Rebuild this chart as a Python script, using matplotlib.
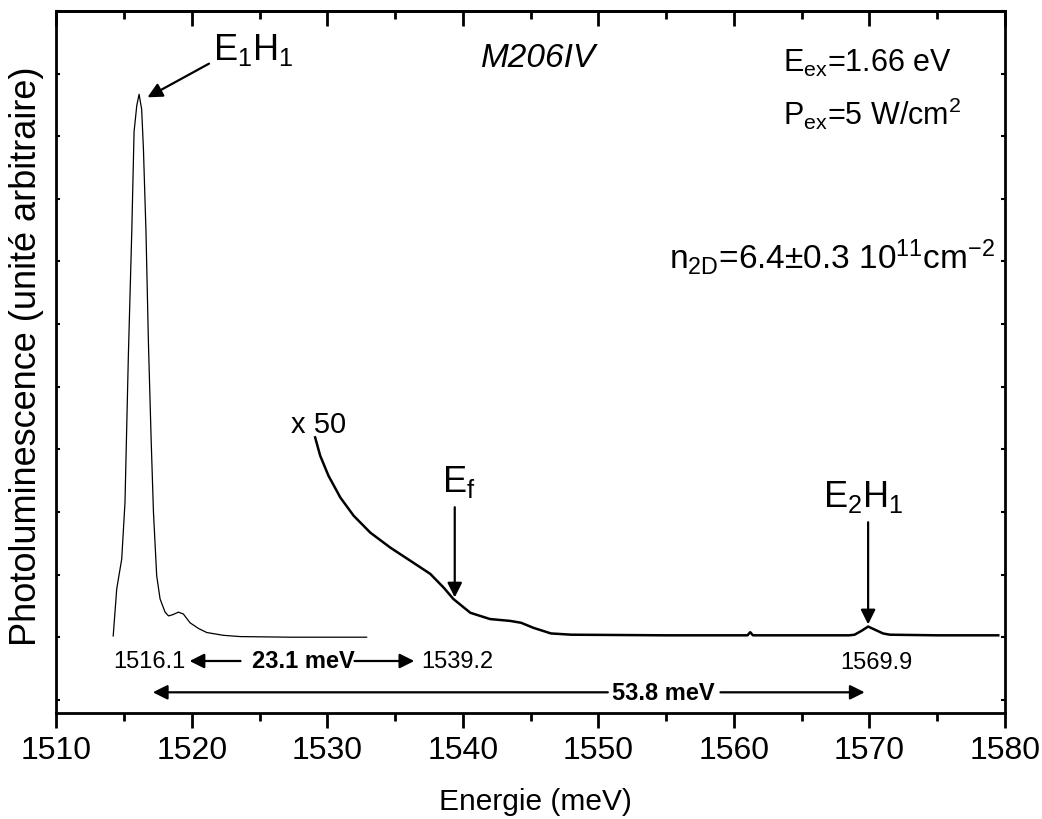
import matplotlib
matplotlib.use("Agg")
import matplotlib.pyplot as plt

plt.rcParams['font.family'] = ['Liberation Sans', 'DejaVu Sans']
plt.rcParams['mathtext.fontset'] = 'custom'
plt.rcParams['mathtext.rm'] = 'Liberation Sans'
plt.rcParams['mathtext.it'] = 'Liberation Sans:italic'
plt.rcParams['mathtext.bf'] = 'Liberation Sans:bold'

# spectre principal (E1H1), energie en meV, intensite en unites arbitraires
e_main = [1514.2, 1514.46, 1514.83, 1515.07, 1515.32, 1515.57, 1515.74, 1515.94,
          1516.11, 1516.3, 1516.43, 1516.62, 1516.8, 1517.0, 1517.17, 1517.41,
          1517.66, 1518.03, 1518.28, 1518.6, 1519.01, 1519.38, 1519.87, 1520.49,
          1521.1, 1522.33, 1523.56, 1527.25, 1532.9]
pl_main = [0.02, 0.77, 1.25, 2.15, 4.5, 6.47, 8.07, 8.49,
           8.67, 8.43, 7.8, 6.47, 4.7, 3.16, 2.0, 0.98,
           0.61, 0.40, 0.34, 0.36, 0.40, 0.37, 0.23, 0.14,
           0.075, 0.03, 0.01, 0.0, 0.0]

# spectre x 50
e_x50 = [1529.1, 1529.47, 1530.08, 1530.96, 1531.94, 1533.17, 1534.65, 1536.13,
         1537.6, 1538.59, 1539.3, 1540.55, 1542.0, 1543.5, 1544.3, 1545.2,
         1546.5, 1548.0, 1555.0, 1561.0, 1561.2, 1561.4, 1568.5, 1568.9,
         1569.4, 1569.9, 1570.4, 1571.0, 1571.5, 1575.0, 1579.5]
pl_x50 = [3.19, 2.90, 2.58, 2.23, 1.94, 1.67, 1.43, 1.22,
          1.01, 0.79, 0.61, 0.39, 0.29, 0.26, 0.23, 0.15,
          0.06, 0.04, 0.03, 0.03, 0.08, 0.03, 0.03, 0.04,
          0.10, 0.17, 0.12, 0.06, 0.04, 0.03, 0.03]

fig = plt.figure(figsize=(10.42, 8.2), dpi=100)
ax = fig.add_axes([0.054, 0.1293, 0.9105, 0.8561])

ax.plot(e_main, pl_main, 'k-', lw=0.9)
ax.plot(e_x50, pl_x50, 'k-', lw=1.8)

ax.set_xlim(1510, 1580)
ax.set_ylim(-1.21, 10)
ax.set_xticks(range(1510, 1581, 10))
ax.set_xticks(range(1515, 1580, 10), minor=True)
ax.set_yticks(range(-1, 11))
ax.set_yticklabels([])

for s in ax.spines.values():
    s.set_linewidth(2)
ax.tick_params(axis='x', which='major', direction='out', length=11, width=2,
               labelsize=23, pad=5)
ax.tick_params(axis='x', which='minor', direction='out', length=6, width=2)
ax.tick_params(axis='y', which='major', direction='in', length=3, width=1.5,
               left=True, right=True)

# ticks du haut vers l'interieur
top = ax.secondary_xaxis('top')
top.set_xticks(range(1510, 1581, 10))
top.set_xticks(range(1515, 1580, 10), minor=True)
top.set_xticklabels([])
top.tick_params(which='major', direction='in', length=11, width=2)
top.tick_params(which='minor', direction='in', length=6, width=2)
top.spines['top'].set_linewidth(2)

ax.set_xlabel('Energie (meV)', fontsize=21.5, va='top')
ax.xaxis.set_label_coords(0.505, -0.105)
ax.set_ylabel('Photoluminescence (unité arbitraire)', fontsize=26)
ax.yaxis.set_label_coords(-0.013, 0.51)

arr = dict(arrowstyle='-|>', color='k', lw=1.6, mutation_scale=22)

ax.text(1521.6, 9.23, r'E$_\mathrm{1}$H$_\mathrm{1}$', fontsize=26)
ax.annotate('', xy=(1516.55, 8.6), xytext=(1521.45, 9.18), arrowprops=arr)

ax.text(1541.3, 9.12, 'M206IV', fontsize=24, style='italic')
ax.text(1563.6, 9.05, r'E$_\mathrm{ex}$=1.66 eV', fontsize=22)
ax.text(1563.6, 8.2, r'P$_\mathrm{ex}$=5 W/cm$^\mathrm{2}$', fontsize=22)
ax.text(1555.2, 5.9, r'n$_\mathrm{2D}$=6.4$\pm$0.3 10$^\mathrm{11}$cm$^\mathrm{-2}$',
        fontsize=24)

ax.text(1527.3, 3.27, 'x 50', fontsize=21)
ax.text(1538.46, 2.33, r'E$_\mathrm{f}$', fontsize=26)
ax.annotate('', xy=(1539.4, 0.59), xytext=(1539.4, 2.12), arrowprops=arr)
ax.text(1566.6, 2.09, r'E$_\mathrm{2}$H$_\mathrm{1}$', fontsize=26)
ax.annotate('', xy=(1569.9, 0.16), xytext=(1569.9, 1.88), arrowprops=arr)

ax.text(1516.85, -0.38, '1516.1', fontsize=17, ha='center', va='center')
ax.text(1539.6, -0.38, '1539.2', fontsize=17, ha='center', va='center')
ax.text(1570.5, -0.40, '1569.9', fontsize=17, ha='center', va='center')

ax.text(1528.24, -0.38, '23.1 meV', fontsize=17, fontweight='bold',
        ha='center', va='center')
ax.annotate('', xy=(1519.63, -0.38), xytext=(1523.8, -0.38), arrowprops=arr)
ax.annotate('', xy=(1536.62, -0.38), xytext=(1531.8, -0.38), arrowprops=arr)

ax.text(1554.8, -0.88, '53.8 meV', fontsize=17, fontweight='bold',
        ha='center', va='center')
ax.annotate('', xy=(1516.92, -0.88), xytext=(1550.9, -0.88), arrowprops=arr)
ax.annotate('', xy=(1569.85, -0.88), xytext=(1558.8, -0.88), arrowprops=arr)

fig.savefig('out.png', dpi=100)
